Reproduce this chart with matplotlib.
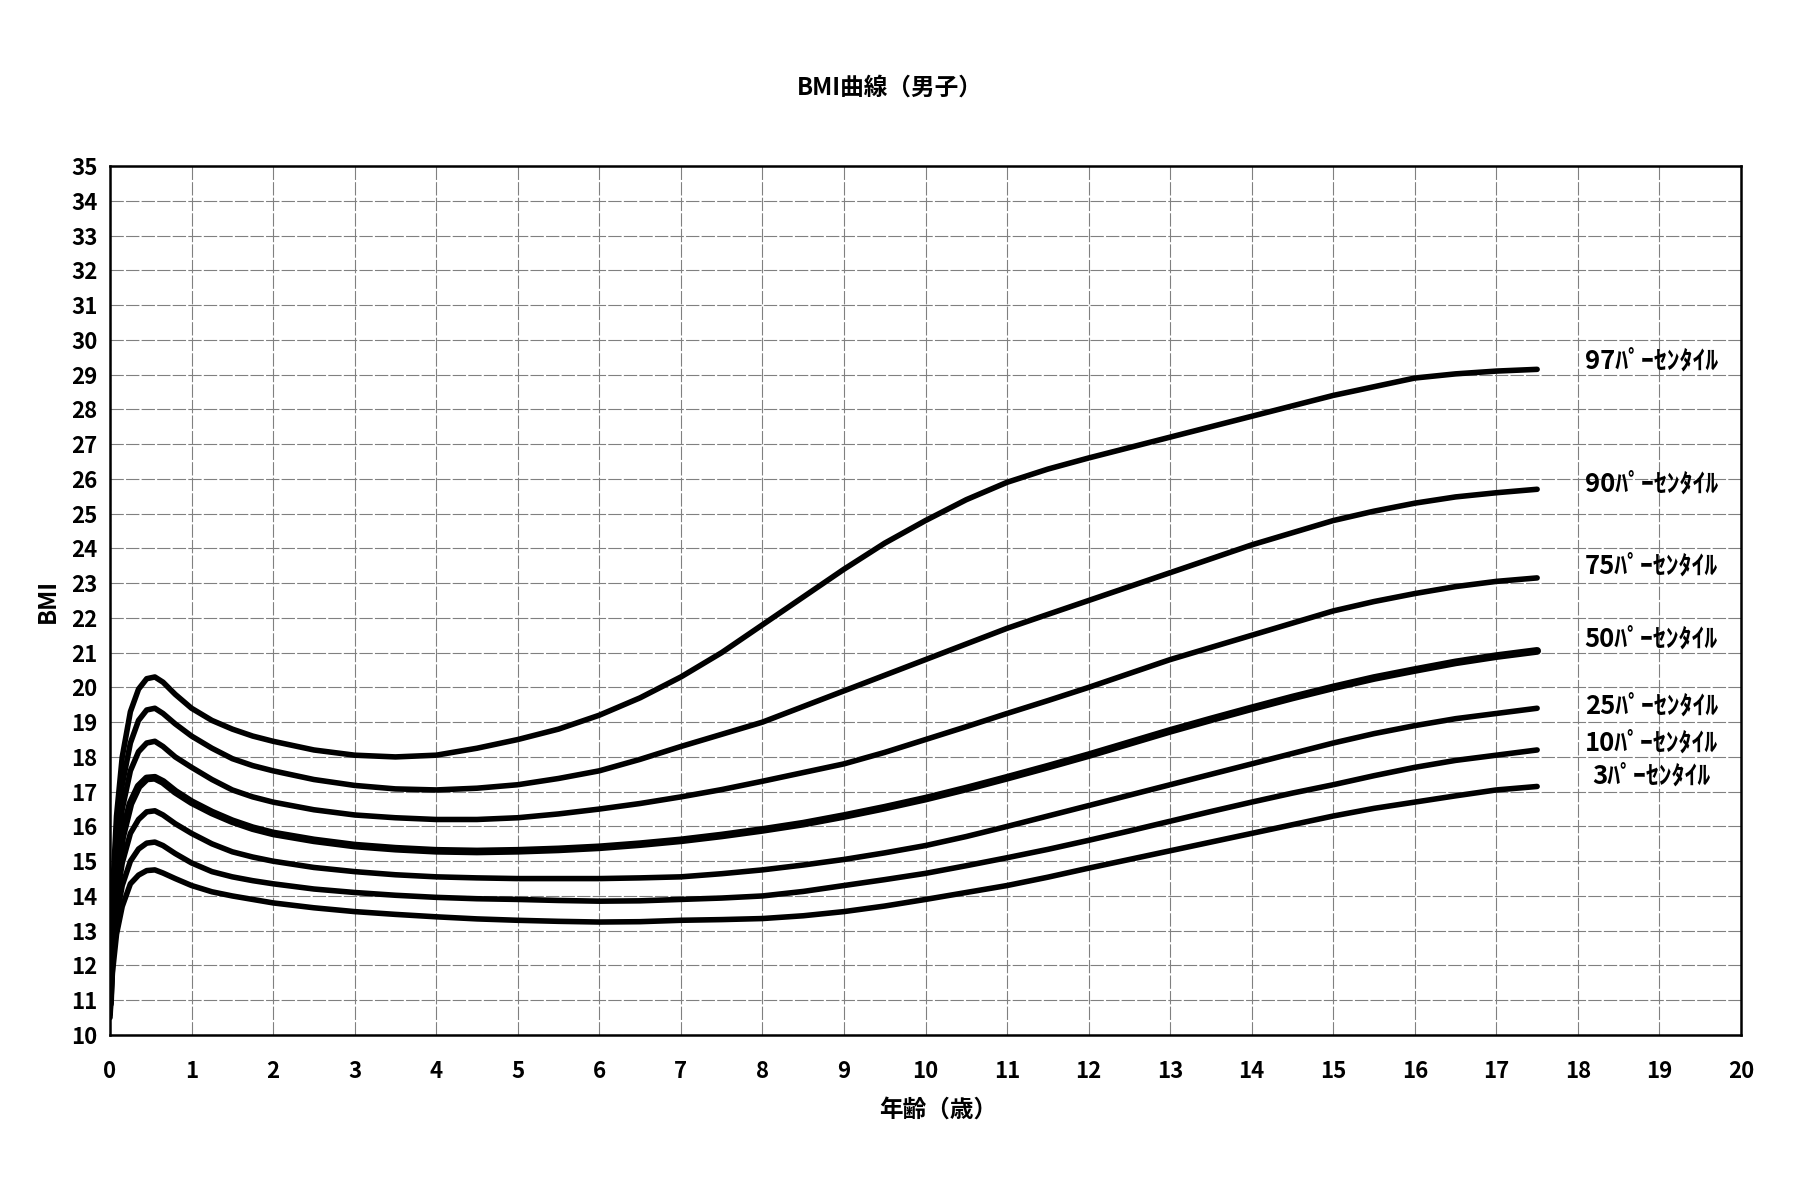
import matplotlib
matplotlib.use("Agg")
import matplotlib.pyplot as plt

plt.rcParams['font.family'] = ['Noto Sans CJK JP', 'DejaVu Sans']

age = [0, 0.03, 0.08, 0.15, 0.25, 0.35, 0.45, 0.55, 0.65, 0.8, 1.0, 1.25, 1.5, 1.75,
       2, 2.5, 3, 3.5, 4, 4.5, 5, 5.5, 6, 6.5, 7, 7.5, 8, 8.5, 9, 9.5, 10, 10.5,
       11, 11.5, 12, 12.5, 13, 13.5, 14, 14.5, 15, 15.5, 16, 16.5, 17, 17.5]

p97 = [11.5, 14.0, 16.3, 18.0, 19.3, 19.95, 20.25, 20.3, 20.15, 19.8, 19.4, 19.05, 18.8, 18.6,
       18.45, 18.2, 18.05, 18.0, 18.05, 18.25, 18.5, 18.8, 19.2, 19.7, 20.3, 21.0, 21.8, 22.6,
       23.4, 24.15, 24.8, 25.4, 25.9, 26.28, 26.6, 26.9, 27.2, 27.5, 27.8, 28.1, 28.4, 28.65,
       28.9, 29.02, 29.1, 29.15]
p90 = [11.3, 13.6, 15.7, 17.2, 18.4, 19.05, 19.35, 19.4, 19.25, 18.95, 18.6, 18.25, 17.95, 17.75,
       17.6, 17.35, 17.18, 17.08, 17.05, 17.1, 17.2, 17.38, 17.6, 17.93, 18.3, 18.65, 19.0, 19.45,
       19.9, 20.35, 20.8, 21.25, 21.7, 22.1, 22.5, 22.9, 23.3, 23.7, 24.1, 24.45, 24.8, 25.07,
       25.3, 25.48, 25.6, 25.7]
p75 = [11.1, 13.2, 15.1, 16.5, 17.6, 18.15, 18.4, 18.45, 18.3, 18.0, 17.7, 17.35, 17.05, 16.85,
       16.7, 16.48, 16.33, 16.25, 16.2, 16.2, 16.25, 16.36, 16.5, 16.66, 16.85, 17.06, 17.3, 17.55,
       17.8, 18.13, 18.5, 18.87, 19.25, 19.62, 20.0, 20.4, 20.8, 21.15, 21.5, 21.85, 22.2, 22.47,
       22.7, 22.9, 23.05, 23.15]
p50 = [10.9, 12.8, 14.5, 15.7, 16.65, 17.15, 17.38, 17.4, 17.28, 17.0, 16.7, 16.4, 16.15, 15.95,
       15.8, 15.6, 15.45, 15.36, 15.3, 15.28, 15.3, 15.34, 15.4, 15.49, 15.6, 15.74, 15.9, 16.08,
       16.3, 16.54, 16.8, 17.09, 17.4, 17.72, 18.05, 18.4, 18.75, 19.08, 19.4, 19.71, 20.0, 20.27,
       20.5, 20.72, 20.9, 21.05]
p25 = [10.7, 12.4, 13.9, 14.95, 15.8, 16.2, 16.42, 16.45, 16.33, 16.08, 15.8, 15.5, 15.27, 15.12,
       15.0, 14.82, 14.7, 14.61, 14.55, 14.52, 14.5, 14.5, 14.5, 14.52, 14.55, 14.64, 14.75, 14.89,
       15.05, 15.24, 15.45, 15.71, 16.0, 16.3, 16.6, 16.9, 17.2, 17.5, 17.8, 18.1, 18.4, 18.67,
       18.9, 19.1, 19.25, 19.4]
p10 = [10.6, 12.1, 13.4, 14.3, 15.0, 15.35, 15.52, 15.55, 15.45, 15.22, 14.95, 14.7, 14.55, 14.44,
       14.35, 14.2, 14.1, 14.02, 13.96, 13.92, 13.9, 13.87, 13.85, 13.86, 13.9, 13.94, 14.0, 14.13,
       14.3, 14.47, 14.65, 14.87, 15.1, 15.34, 15.6, 15.87, 16.15, 16.43, 16.7, 16.96, 17.2, 17.46,
       17.7, 17.9, 18.05, 18.2]
p3 = [10.5, 11.8, 12.9, 13.7, 14.35, 14.6, 14.73, 14.75, 14.66, 14.5, 14.3, 14.12, 14.0, 13.9,
      13.8, 13.66, 13.55, 13.47, 13.4, 13.34, 13.3, 13.27, 13.25, 13.26, 13.3, 13.32, 13.35, 13.43,
      13.55, 13.71, 13.9, 14.1, 14.3, 14.54, 14.8, 15.05, 15.3, 15.55, 15.8, 16.05, 16.3, 16.52,
      16.7, 16.88, 17.05, 17.15]

curves = [p97, p90, p75, p50, p25, p10, p3]
labels = ['97ﾊﾟｰｾﾝﾀｲﾙ', '90ﾊﾟｰｾﾝﾀｲﾙ', '75ﾊﾟｰｾﾝﾀｲﾙ', '50ﾊﾟｰｾﾝﾀｲﾙ',
          '25ﾊﾟｰｾﾝﾀｲﾙ', '10ﾊﾟｰｾﾝﾀｲﾙ', '3ﾊﾟｰｾﾝﾀｲﾙ']
label_y = [29.4, 25.85, 23.5, 21.4, 19.45, 18.4, 17.45]

fig = plt.figure(figsize=(17.94, 12), dpi=100)
ax = fig.add_axes([110/1794, 1 - 1035/1200, (1741-110)/1794, (1035-166)/1200])

for vals, lab, ly in zip(curves, labels, label_y):
    lw = 5.6 if lab.startswith('50') else 4.0
    ax.plot(age, vals, color='black', lw=lw, solid_capstyle='round',
            solid_joinstyle='round', zorder=3)
    ax.text(18.9, ly, lab, ha='center', va='center', fontsize=18.5, fontweight='bold')

ax.set_xlim(0, 20)
ax.set_ylim(10, 35)
ax.set_xticks(range(0, 21))
ax.set_yticks(range(10, 36))
ax.grid(True, color='#808080', lw=0.8, linestyle=(0, (12, 2)))
ax.tick_params(length=0, labelsize=16)
ax.tick_params(axis='x', pad=18)
ax.tick_params(axis='y', pad=9)
for t in ax.get_xticklabels() + ax.get_yticklabels():
    t.set_fontweight('bold')
for s in ax.spines.values():
    s.set_linewidth(1.8)

ax.set_xlabel('年齢（歳）', fontsize=17, fontweight='bold', labelpad=13)
ax.xaxis.set_label_coords(0.508, -0.072)
ax.set_ylabel('BMI', fontsize=17, fontweight='bold', labelpad=8)
fig.text(890/1794, 1 - 88/1200, 'BMI曲線（男子）', ha='center', va='center',
         fontsize=17, fontweight='bold')

fig.savefig('out.png', dpi=100)
